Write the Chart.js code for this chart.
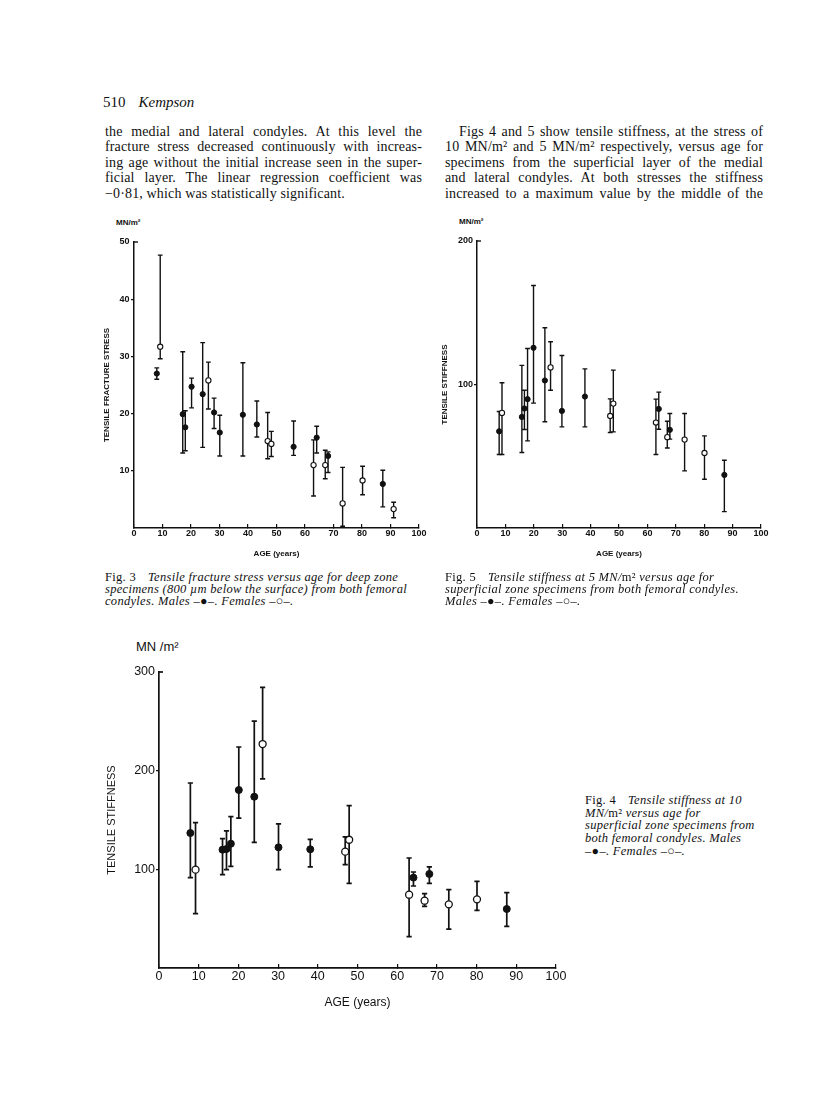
<!DOCTYPE html>
<html>
<head>
<meta charset="utf-8">
<title>Kempson 510</title>
<script src="https://cdn.jsdelivr.net/npm/chart.js@4.4.1/dist/chart.umd.min.js"></script>
<style>
  html, body { margin: 0; padding: 0; background: #fff; }
  #page { position: relative; width: 816px; height: 1099px; overflow: hidden; color: #111;
          font-family: "Liberation Serif", "Times New Roman", serif; }
  .abs { position: absolute; }
  .col { font-size: 14px; line-height: 15.4px; letter-spacing: .15px; }
  .col div { text-align: justify; text-align-last: justify; }
  .col div.last { text-align-last: left; }
  .cap { font-size: 12.5px; line-height: 12px; letter-spacing: .3px; font-style: italic; white-space: nowrap; }
  .cap .up { font-style: normal; }
  .unit { font-family: "Liberation Sans", Arial, sans-serif; white-space: nowrap; }
  canvas { position: absolute; }
</style>
</head>
<body>
<div id="page">
  <div class="abs" style="left:103px; top:93px; font-size:15px; line-height:18px;">510<span style="margin-left:13px; font-style:italic;">Kempson</span></div>

  <div class="abs col" style="left:105px; top:124px; width:317px;">
    <div>the medial and lateral condyles. At this level the</div>
    <div>fracture stress decreased continuously with increas-</div>
    <div>ing age without the initial increase seen in the super-</div>
    <div>ficial layer. The linear regression coefficient was</div>
    <div class="last">&minus;0·81, which was statistically significant.</div>
  </div>

  <div class="abs col" style="left:445px; top:124px; width:318px;">
    <div style="padding-left:14px;">Figs 4 and 5 show tensile stiffness, at the stress of</div>
    <div>10 MN/m² and 5 MN/m² respectively, versus age for</div>
    <div>specimens from the superficial layer of the medial</div>
    <div>and lateral condyles. At both stresses the stiffness</div>
    <div>increased to a maximum value by the middle of the</div>
  </div>

  <div class="abs unit" style="left:116px; top:218px; font-size:8px; line-height:10px; font-weight:bold;">MN/m²</div>
  <div class="abs unit" style="left:459px; top:217px; font-size:8px; line-height:10px; font-weight:bold;">MN/m²</div>
  <div class="abs unit" style="left:136px; top:639px; font-size:13px; line-height:16px;">MN /m²</div>

  <canvas id="fig3" width="350" height="340" style="left:90px; top:230px;"></canvas>
  <canvas id="fig5" width="350" height="341" style="left:430px; top:229px;"></canvas>
  <canvas id="fig4" width="490" height="380" style="left:90px; top:655px;"></canvas>

  <div class="abs cap" style="left:105px; top:571px;">
    <div><span class="up">Fig. 3</span><span style="margin-left:12px;">Tensile fracture stress versus age for deep zone</span></div>
    <div>specimens (800 µm below the surface) from both femoral</div>
    <div>condyles. Males –●–. Females –○–.</div>
  </div>

  <div class="abs cap" style="left:445px; top:571px;">
    <div><span class="up">Fig. 5</span><span style="margin-left:12px;">Tensile stiffness at 5 MN/<span class="up">m²</span> versus age for</span></div>
    <div>superficial zone specimens from both femoral condyles.</div>
    <div>Males –●–. Females –○–.</div>
  </div>

  <div class="abs cap" style="left:585px; top:794px; line-height:12.65px;">
    <div><span class="up">Fig. 4</span><span style="margin-left:12px;">Tensile stiffness at 10</span></div>
    <div>MN/<span class="up">m²</span> versus age for</div>
    <div>superficial zone specimens from</div>
    <div>both femoral condyles. Males</div>
    <div>–●–. Females –○–.</div>
  </div>
</div>

<script>
// Fig. 3 - tensile fracture stress, deep zone (MN/m2)
const fig3MaleAge = [8.0, 17.1, 18.0, 20.2, 24.1, 28.1, 30.1, 38.2, 43.1, 56.0, 64.1, 68.1, 87.3];
const fig3MaleVal = [27.0, 19.9, 17.6, 24.7, 23.4, 20.2, 16.7, 19.8, 18.1, 14.2, 15.8, 12.6, 7.7];
const fig3MaleLow = [26.0, 13.1, 13.5, 21.0, 14.1, 17.4, 12.6, 12.6, 15.9, 12.7, 13.1, 9.7, 3.7];
const fig3MaleHigh = [28.0, 30.8, 20.5, 26.2, 32.4, 22.7, 19.7, 28.9, 22.2, 18.7, 17.8, 13.3, 10.1];
const fig3FemaleAge = [9.2, 26.1, 46.9, 48.2, 63.0, 67.1, 73.2, 80.2, 91.1];
const fig3FemaleVal = [31.7, 25.8, 15.2, 14.7, 11.0, 11.0, 4.3, 8.3, 3.3];
const fig3FemaleLow = [29.6, 20.8, 12.1, 12.5, 5.6, 8.6, 0.3, 5.8, 1.8];
const fig3FemaleHigh = [47.7, 29.0, 20.2, 16.9, 15.4, 13.6, 10.6, 10.8, 4.5];

// Fig. 5 - tensile stiffness at 5 MN/m2
const fig5MaleAge = [7.8, 15.8, 16.7, 17.8, 19.9, 23.9, 29.9, 38.0, 64.0, 67.9, 87.1];
const fig5MaleVal = [67.4, 77.4, 83.3, 89.8, 125.6, 102.8, 81.6, 91.6, 83.0, 68.4, 37.0];
const fig5MaleLow = [51.2, 52.6, 68.6, 60.7, 87.0, 74.0, 70.5, 70.5, 68.8, 61.9, 11.4];
const fig5MaleHigh = [81.2, 113.3, 96.0, 125.1, 169.0, 139.5, 120.2, 110.9, 94.7, 79.8, 47.2];
const fig5FemaleAge = [8.8, 25.9, 46.9, 48.0, 63.0, 67.0, 73.1, 80.1];
const fig5FemaleVal = [80.2, 111.9, 78.1, 86.7, 73.5, 63.3, 61.6, 52.3];
const fig5FemaleLow = [51.2, 96.0, 66.5, 67.0, 51.2, 55.8, 39.8, 34.0];
const fig5FemaleHigh = [101.2, 129.8, 90.0, 110.0, 89.8, 74.4, 79.8, 64.2];

// Fig. 4 - tensile stiffness at 10 MN/m2
const fig4MaleAge = [7.9, 16.0, 17.0, 18.1, 20.1, 24.0, 30.1, 38.1, 64.1, 68.1, 87.6];
const fig4MaleVal = [136.8, 119.9, 120.6, 126.0, 180.4, 173.6, 122.3, 120.3, 91.6, 95.3, 59.8];
const fig4MaleLow = [91.6, 94.6, 99.7, 103.0, 152.0, 127.4, 99.7, 102.4, 83.1, 85.8, 42.2];
const fig4MaleHigh = [187.5, 131.1, 138.9, 153.4, 224.0, 250.3, 146.0, 130.4, 97.3, 102.4, 76.4];
const fig4FemaleAge = [9.2, 26.1, 46.9, 47.9, 63.0, 66.9, 73.0, 80.1];
const fig4FemaleVal = [99.7, 227.0, 117.9, 130.0, 74.3, 68.2, 64.5, 69.6];
const fig4FemaleLow = [55.1, 191.6, 104.7, 85.8, 31.8, 62.5, 39.5, 58.4];
const fig4FemaleHigh = [147.3, 284.5, 132.8, 164.5, 111.5, 75.3, 79.4, 87.8];

const ink = "#111";

// vertical bars with caps, drawn under the points
const errorBars = {
  id: "errorBars",
  beforeDatasetsDraw(chart, args, opts) {
    const { ctx } = chart;
    const xs = chart.scales.x;
    const ys = chart.scales.y;
    ctx.save();
    ctx.strokeStyle = ink;
    ctx.lineWidth = opts.width;
    chart.data.datasets.forEach((ds) => {
      ds.data.forEach((p, i) => {
        const px = xs.getPixelForValue(p.x);
        const lo = ys.getPixelForValue(ds.low[i]);
        const hi = ys.getPixelForValue(ds.high[i]);
        ctx.beginPath();
        ctx.moveTo(px, lo);
        ctx.lineTo(px, hi);
        ctx.moveTo(px - opts.cap, lo);
        ctx.lineTo(px + opts.cap, lo);
        ctx.moveTo(px - opts.cap, hi);
        ctx.lineTo(px + opts.cap, hi);
        ctx.stroke();
      });
    });
    // the short corner mark at the top of the y axis
    const top = ys.getPixelForValue(ys.max);
    ctx.beginPath();
    ctx.moveTo(xs.left, top);
    ctx.lineTo(xs.left + 4, top);
    ctx.stroke();
    ctx.restore();
  },
};

function points(ages, vals) {
  return ages.map((a, i) => ({ x: a, y: vals[i] }));
}

function makeChart(id, s) {
  const ctx = document.getElementById(id).getContext("2d");
  return new Chart(ctx, {
    type: "scatter",
    data: {
      datasets: [
        {
          label: "Males",
          data: points(s.mAge, s.mVal),
          low: s.mLow,
          high: s.mHigh,
          pointRadius: s.r,
          pointBackgroundColor: ink,
          pointBorderColor: ink,
          pointBorderWidth: 1,
        },
        {
          label: "Females",
          data: points(s.fAge, s.fVal),
          low: s.fLow,
          high: s.fHigh,
          pointRadius: s.r,
          pointBackgroundColor: "#fff",
          pointBorderColor: ink,
          pointBorderWidth: s.ring,
        },
      ],
    },
    options: {
      responsive: false,
      animation: false,
      devicePixelRatio: 1,
      layout: { padding: { left: 0, top: s.padTop, right: s.padRight, bottom: 0 } },
      plugins: {
        legend: { display: false },
        tooltip: { enabled: false },
        errorBars: { width: s.barWidth, cap: s.cap },
      },
      scales: {
        x: {
          type: "linear",
          min: 0,
          max: 100,
          afterFit: (scale) => { scale.height = s.xH; },
          border: { display: true, color: ink, width: s.axisWidth },
          grid: { drawOnChartArea: false, drawTicks: true, tickLength: -4, color: ink, lineWidth: 1.2 },
          ticks: {
            stepSize: 10,
            autoSkip: false,
            maxRotation: 0,
            color: ink,
            padding: s.xTickPad,
            font: { family: "Liberation Sans", size: s.tickSize, weight: s.weight },
          },
          title: {
            display: true,
            text: "AGE (years)",
            color: ink,
            padding: { top: 0, bottom: s.xTitlePad },
            font: { family: "Liberation Sans", size: s.xTitleSize, weight: s.weight },
          },
        },
        y: {
          type: "linear",
          min: 0,
          max: s.yMax,
          afterFit: (scale) => { scale.width = s.yW; },
          border: { display: true, color: ink, width: s.axisWidth },
          grid: {
            drawOnChartArea: false,
            drawTicks: true,
            tickLength: 3,
            lineWidth: 1.2,
            color: (c) => (c.tick && (c.tick.value === 0 || c.tick.value === s.yMax) ? "rgba(0,0,0,0)" : ink),
          },
          ticks: {
            stepSize: s.yStep,
            color: ink,
            padding: s.yTickPad,
            font: { family: "Liberation Sans", size: s.tickSize, weight: s.weight },
            callback: (v) => (v === 0 ? "" : v),
          },
          title: {
            display: true,
            text: s.yTitle,
            color: ink,
            padding: { top: s.yTitlePad, bottom: 0 },
            font: { family: "Liberation Sans", size: s.yTitleSize, weight: s.weight },
          },
        },
      },
    },
    plugins: [errorBars],
  });
}

makeChart("fig3", {
  mAge: fig3MaleAge, mVal: fig3MaleVal, mLow: fig3MaleLow, mHigh: fig3MaleHigh,
  fAge: fig3FemaleAge, fVal: fig3FemaleVal, fLow: fig3FemaleLow, fHigh: fig3FemaleHigh,
  yMax: 50, yStep: 10, yTitle: "TENSILE FRACTURE STRESS",
  r: 2.6, ring: 1.1, barWidth: 1.4, cap: 2.4, axisWidth: 1.5,
  padTop: 12, padRight: 21, yW: 44, xH: 42,
  tickSize: 9, xTitleSize: 8, yTitleSize: 8, weight: "bold",
  xTickPad: 4, yTickPad: 1.5, xTitlePad: 11, yTitlePad: 12,
});

makeChart("fig5", {
  mAge: fig5MaleAge, mVal: fig5MaleVal, mLow: fig5MaleLow, mHigh: fig5MaleHigh,
  fAge: fig5FemaleAge, fVal: fig5FemaleVal, fLow: fig5FemaleLow, fHigh: fig5FemaleHigh,
  yMax: 200, yStep: 100, yTitle: "TENSILE STIFFNESS",
  r: 2.6, ring: 1.1, barWidth: 1.4, cap: 2.4, axisWidth: 1.5,
  padTop: 12, padRight: 19, yW: 47, xH: 42,
  tickSize: 9, xTitleSize: 8, yTitleSize: 8, weight: "bold",
  xTickPad: 4, yTickPad: 1, xTitlePad: 11, yTitlePad: 10,
});

makeChart("fig4", {
  mAge: fig4MaleAge, mVal: fig4MaleVal, mLow: fig4MaleLow, mHigh: fig4MaleHigh,
  fAge: fig4FemaleAge, fVal: fig4FemaleVal, fLow: fig4FemaleLow, fHigh: fig4FemaleHigh,
  yMax: 300, yStep: 100, yTitle: "TENSILE STIFFNESS",
  r: 3.5, ring: 1.3, barWidth: 1.7, cap: 2.6, axisWidth: 1.7,
  padTop: 17, padRight: 24, yW: 69, xH: 67,
  tickSize: 12.5, xTitleSize: 12, yTitleSize: 11, weight: "normal",
  xTickPad: 5.5, yTickPad: 1, xTitlePad: 25, yTitlePad: 15,
});
</script>
</body>
</html>
